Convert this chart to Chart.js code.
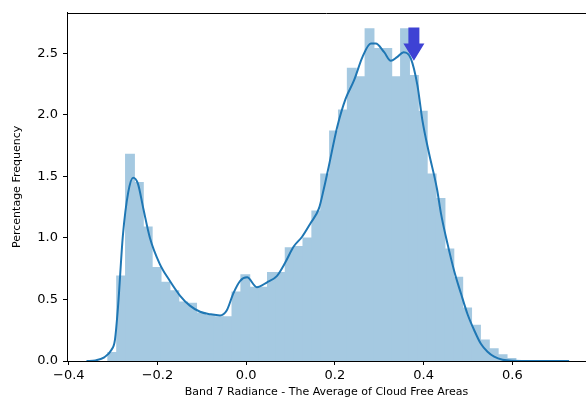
<!DOCTYPE html>
<html>
<head>
<meta charset="utf-8">
<script src="https://cdn.jsdelivr.net/npm/chart.js@4/dist/chart.umd.min.js"></script>
<style>
  html, body { margin: 0; padding: 0; background: #fff; }
</style>
</head>
<body>
<canvas id="myChart" width="586" height="409"></canvas>
<script>
// histogram bins (density), bin width 0.02 starting at -0.312
const binStart = -0.312;
const binWidth = 0.02;
const binHeights = [
    0.07, 0.69, 1.68, 1.45, 1.09, 0.76, 0.64, 0.57, 0.48, 0.47,
    0.39, 0.37, 0.36, 0.36, 0.56, 0.70, 0.60, 0.60, 0.72, 0.72,
    0.92, 0.93, 1.00, 1.22, 1.52, 1.87, 2.04, 2.38, 2.31, 2.70,
    2.54, 2.54, 2.31, 2.70, 2.32, 2.03, 1.52, 1.32, 0.91, 0.68,
    0.43, 0.29, 0.17, 0.10, 0.05, 0.02
];

// kde curve
const kdeX = [-0.36, -0.34, -0.32, -0.304, -0.296, -0.289, -0.278, -0.266, -0.255, -0.244,
    -0.232, -0.217, -0.195, -0.172, -0.149, -0.127, -0.104, -0.081, -0.059, -0.044,
    -0.029, -0.014, 0.002, 0.024, 0.047, 0.069, 0.088, 0.107, 0.126, 0.145,
    0.164, 0.175, 0.186, 0.205, 0.224, 0.243, 0.262, 0.281, 0.292, 0.311,
    0.326, 0.340, 0.355, 0.371, 0.386, 0.397, 0.412, 0.430, 0.439, 0.454,
    0.469, 0.484, 0.499, 0.514, 0.529, 0.544, 0.559, 0.578, 0.60, 0.65, 0.728];
const kdeY = [0.0, 0.005, 0.03, 0.09, 0.17, 0.44, 1.02, 1.37, 1.49, 1.44,
    1.24, 1.0, 0.79, 0.65, 0.53, 0.45, 0.40, 0.38, 0.37, 0.41,
    0.55, 0.65, 0.68, 0.60, 0.64, 0.69, 0.80, 0.93, 1.01, 1.12,
    1.24, 1.40, 1.58, 1.90, 2.13, 2.28, 2.47, 2.58, 2.58, 2.51,
    2.44, 2.47, 2.51, 2.46, 2.24, 1.96, 1.69, 1.40, 1.20, 0.95,
    0.73, 0.55, 0.38, 0.25, 0.14, 0.075, 0.035, 0.01, 0.002, 0.0, 0.0];

const xTicks = [-0.4, -0.2, 0.0, 0.2, 0.4, 0.6];
const yTicks = [0.0, 0.5, 1.0, 1.5, 2.0, 2.5];

// annotation arrow (data units)
const arrowX = 0.378;
const arrowTop = 2.71;
const arrowHead = 2.58;
const arrowTip = 2.44;

const FONT = "'DejaVu Sans', sans-serif";

function fmt(v) {
    const s = Math.abs(v).toFixed(1);
    return v < -1e-9 ? '\u2212' + s : s;
}

const extrasPlugin = {
    id: 'extras',
    afterDatasetsDraw(chart) {
        const {ctx, chartArea, scales} = chart;
        ctx.save();
        // top spine
        ctx.strokeStyle = '#000';
        ctx.lineWidth = 1;
        ctx.beginPath();
        ctx.moveTo(chartArea.left, Math.round(chartArea.top) + 0.5);
        ctx.lineTo(chartArea.right, Math.round(chartArea.top) + 0.5);
        ctx.stroke();

        // arrow
        const x = scales.x.getPixelForValue(arrowX);
        const yTop = scales.y.getPixelForValue(arrowTop);
        const yHead = scales.y.getPixelForValue(arrowHead);
        const yTip = scales.y.getPixelForValue(arrowTip);
        ctx.fillStyle = 'rgb(62,66,212)';
        ctx.beginPath();
        ctx.moveTo(x - 5.5, yTop);
        ctx.lineTo(x + 5.5, yTop);
        ctx.lineTo(x + 5.5, yHead);
        ctx.lineTo(x + 10.5, yHead);
        ctx.lineTo(x, yTip);
        ctx.lineTo(x - 10.5, yHead);
        ctx.lineTo(x - 5.5, yHead);
        ctx.closePath();
        ctx.fill();
        ctx.restore();
    }
};

new Chart(document.getElementById('myChart').getContext('2d'), {
    type: 'bar',
    data: {
        datasets: [
            {
                type: 'line',
                order: 0,
                data: kdeX.map((x, i) => ({x: x, y: kdeY[i]})),
                borderColor: '#1f77b4',
                borderWidth: 2,
                pointRadius: 0,
                cubicInterpolationMode: 'monotone',
                fill: false
            },
            {
                type: 'bar',
                order: 1,
                data: binHeights.map((h, i) => ({x: binStart + binWidth * (i + 0.5), y: h})),
                backgroundColor: 'rgb(165,201,225)',
                borderWidth: 0,
                barPercentage: 1,
                categoryPercentage: 1,
                inflateAmount: 0.5
            }
        ]
    },
    options: {
        responsive: false,
        animation: false,
        layout: {padding: {left: 0, right: 0, top: 8, bottom: 0}},
        plugins: {legend: {display: false}, tooltip: {enabled: false}},
        scales: {
            x: {
                type: 'linear',
                min: -0.404,
                max: 0.766,
                offset: false,
                afterBuildTicks: s => { s.ticks = xTicks.map(v => ({value: v})); },
                afterFit: s => { s.height = 48; },
                grid: {drawOnChartArea: false, offset: false, tickLength: 4, tickColor: '#000'},
                border: {color: '#000', width: 1},
                ticks: {
                    color: '#000', padding: 3, maxRotation: 0,
                    font: {family: FONT, size: 13},
                    callback: v => fmt(v)
                },
                title: {
                    display: true,
                    text: 'Band 7 Radiance - The Average of Cloud Free Areas',
                    color: '#000',
                    font: {family: FONT, size: 11},
                    padding: {top: 0, bottom: 10}
                }
            },
            y: {
                min: 0,
                max: 2.83,
                afterBuildTicks: s => { s.ticks = yTicks.map(v => ({value: v})); },
                afterFit: s => { s.width = 67; },
                grid: {drawOnChartArea: false, tickLength: 4, tickColor: '#000'},
                border: {color: '#000', width: 1},
                ticks: {
                    color: '#000', padding: 5,
                    font: {family: FONT, size: 13},
                    callback: v => fmt(v)
                },
                title: {
                    display: true,
                    text: 'Percentage Frequency',
                    color: '#000',
                    font: {family: FONT, size: 11},
                    padding: {top: 11, bottom: 0}
                }
            }
        }
    },
    plugins: [extrasPlugin]
});
</script>
</body>
</html>
